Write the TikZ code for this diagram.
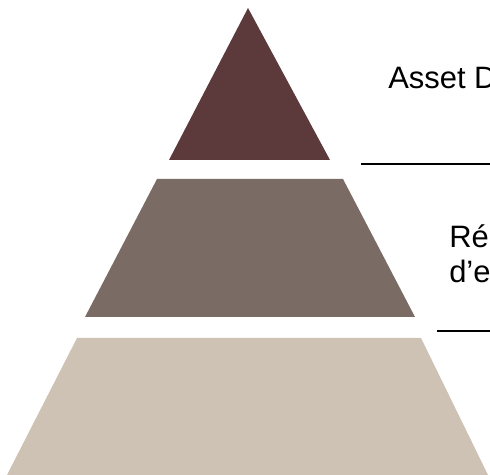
\documentclass[tikz,border=0pt]{standalone}
\usepackage{fontspec}
\setmainfont{Liberation Sans}
\usetikzlibrary{positioning}

\definecolor{tipbrown}{RGB}{92,58,60}
\definecolor{midbrown}{RGB}{122,108,100}
\definecolor{basesand}{RGB}{205,194,180}

\tikzset{
  tiertext/.style={anchor=base west,inner sep=0pt,font=\fontsize{22}{26}\selectfont},
  tierline/.style={line width=1.6pt}
}

\begin{document}
\begin{tikzpicture}
    \useasboundingbox (0,0) rectangle (12.25,11.875);
    \clip (0,0) rectangle (12.25,11.875);

    % the three tiers of the pyramid
    \fill[tipbrown] (6.2,11.675) -- (8.25,7.875) -- (4.225,7.875) -- cycle;
    \fill[midbrown] (3.925,7.4) -- (8.575,7.4) -- (10.375,3.95) -- (2.125,3.95) -- cycle;
    \fill[basesand] (1.925,3.425) -- (10.525,3.425) -- (12.2,0) -- (0.175,0) -- cycle;

    \node[tiertext](asset)at(9.7,9.65){Asset D};
    \node[tiertext](re)at(11.225,5.675){Ré};
    \node[tiertext](de)at(11.225,4.8){d’e};

    \coordinate(sepa)at(9.025,7.775);
    \coordinate(sepb)at(10.925,3.6);
    \draw[tierline](sepa)--(sepa -| 12.25,0);
    \draw[tierline](sepb)--(sepb -| 12.25,0);

\end{tikzpicture}
\end{document}
